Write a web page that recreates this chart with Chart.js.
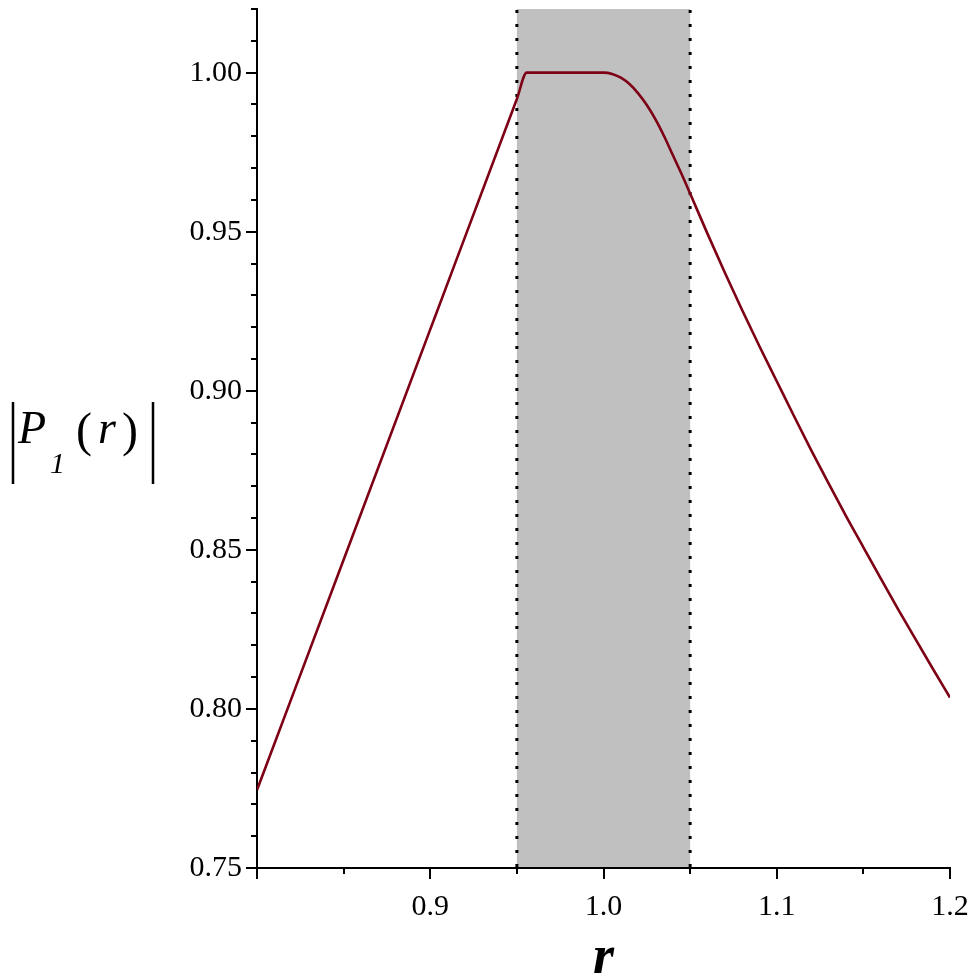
<!DOCTYPE html>
<html>
<head>
<meta charset="utf-8">
<script src="https://cdn.jsdelivr.net/npm/chart.js@4/dist/chart.umd.min.js"></script>
<style>
  html, body { margin: 0; padding: 0; background: #fff; }
  #wrap { width: 976px; height: 980px; }
</style>
</head>
<body>
<div id="wrap"><canvas id="plot" width="976" height="980"></canvas></div>
<script>
// curve |P_1(r)|
const rValues = [0.80, 0.85, 0.90, 0.95, 0.9557, 0.97, 0.98, 0.99, 1.00,
  1.005, 1.01, 1.015, 1.02, 1.025, 1.03, 1.035, 1.04, 1.045, 1.05,
  1.06, 1.07, 1.08, 1.09, 1.10, 1.11, 1.12, 1.13, 1.14, 1.15, 1.16, 1.17, 1.18, 1.19, 1.20];
const pValues = [0.7745, 0.8469, 0.9193, 0.9917, 1.0, 1.0, 1.0, 1.0, 1.0,
  0.9996, 0.9984, 0.9964, 0.9935, 0.9898, 0.9853, 0.9800, 0.9741, 0.9682, 0.9620,
  0.9494, 0.9372, 0.9254, 0.9140, 0.9030, 0.8920, 0.8812, 0.8708, 0.8606, 0.8508, 0.8410, 0.8314, 0.8220, 0.8127, 0.8036];

// shaded band and its dotted borders
const bandStart = 0.95;
const bandEnd = 1.05;

// axes
const xMin = 0.8, xMax = 1.2;
const yMin = 0.75, yMax = 1.02;
const xMajorTicks = [0.8, 0.9, 1.0, 1.1, 1.2];
const xMinorTicks = [0.85, 0.95, 1.05, 1.15];
const yMajorTicks = [0.75, 0.80, 0.85, 0.90, 0.95, 1.00];
const yMinorTicks = [0.76, 0.77, 0.78, 0.79, 0.81, 0.82, 0.83, 0.84, 0.86, 0.87, 0.88, 0.89,
  0.91, 0.92, 0.93, 0.94, 0.96, 0.97, 0.98, 0.99, 1.01, 1.02];
const xLabelValues = [0.9, 1.0, 1.1, 1.2];

const curveColor = '#7d0014';
const serif = '"Liberation Serif", "DejaVu Serif", serif';

const near = (a, list) => list.some(v => Math.abs(v - a) < 1e-6);

// band + dotted lines behind the curve
const bandPlugin = {
  id: 'band',
  beforeDatasetsDraw(chart) {
    const { ctx, scales } = chart;
    const x0 = scales.x.getPixelForValue(bandStart);
    const x1 = scales.x.getPixelForValue(bandEnd);
    const yTop = scales.y.getPixelForValue(yMax);
    const yBot = scales.y.getPixelForValue(yMin);
    ctx.save();
    ctx.fillStyle = '#c0c0c0';
    ctx.fillRect(x0, yTop, x1 - x0, yBot - yTop - 1);
    ctx.strokeStyle = '#000';
    ctx.lineWidth = 3;
    ctx.setLineDash([3, 11]);
    [x0, x1].forEach(x => {
      ctx.beginPath();
      ctx.moveTo(x, yTop + 1);
      ctx.lineTo(x, yBot);
      ctx.stroke();
    });
    ctx.restore();
  }
};

// tick marks and axis titles
const decorPlugin = {
  id: 'decor',
  afterDraw(chart) {
    const { ctx, scales } = chart;
    const xs = scales.x, ys = scales.y;
    const axisX = ys.right;
    const axisY = xs.top;
    ctx.save();
    ctx.strokeStyle = '#000';
    ctx.lineWidth = 2;
    ctx.beginPath();
    yMajorTicks.forEach(v => {
      const y = Math.round(ys.getPixelForValue(v));
      ctx.moveTo(axisX - 11, y); ctx.lineTo(axisX, y);
    });
    yMinorTicks.forEach(v => {
      const y = Math.round(ys.getPixelForValue(v));
      ctx.moveTo(axisX - 6, y); ctx.lineTo(axisX, y);
    });
    xMajorTicks.forEach(v => {
      const x = Math.round(xs.getPixelForValue(v));
      ctx.moveTo(x, axisY); ctx.lineTo(x, axisY + 11);
    });
    xMinorTicks.forEach(v => {
      const x = Math.round(xs.getPixelForValue(v));
      ctx.moveTo(x, axisY); ctx.lineTo(x, axisY + 6);
    });
    ctx.stroke();

    // x title
    ctx.fillStyle = '#000';
    ctx.textBaseline = 'alphabetic';
    ctx.textAlign = 'center';
    ctx.font = 'italic bold 54px ' + serif;
    ctx.fillText('r', xs.getPixelForValue(1.0), 973);

    // y title |P_1(r)|
    ctx.textAlign = 'left';
    ctx.font = 'italic 46px ' + serif;
    ctx.fillText('P', 18, 443);
    ctx.font = 'italic 30px ' + serif;
    ctx.fillText('1', 50, 473);
    ctx.font = '48px ' + serif;
    ctx.fillText('(', 76, 446);
    ctx.fillText(')', 122, 446);
    ctx.font = 'italic 46px ' + serif;
    ctx.fillText('r', 98, 443);
    ctx.lineWidth = 2.5;
    ctx.beginPath();
    ctx.moveTo(13, 402); ctx.lineTo(13, 484);
    ctx.moveTo(153, 402); ctx.lineTo(153, 484);
    ctx.stroke();
    ctx.restore();
  }
};

const ctx = document.getElementById('plot').getContext('2d');
new Chart(ctx, {
  type: 'line',
  data: {
    datasets: [{
      label: '|P1(r)|',
      data: rValues.map((r, i) => ({ x: r, y: pValues[i] })),
      borderColor: curveColor,
      borderWidth: 2.6,
      pointRadius: 0,
      cubicInterpolationMode: 'monotone',
      fill: false
    }]
  },
  options: {
    responsive: false,
    animation: false,
    layout: { padding: { top: 9, right: 26, left: 0, bottom: 0 } },
    plugins: {
      legend: { display: false },
      tooltip: { enabled: false }
    },
    scales: {
      x: {
        type: 'linear',
        min: xMin,
        max: xMax,
        border: { display: true, color: '#000', width: 2 },
        grid: { display: true, drawOnChartArea: false, drawTicks: true, tickLength: 11, tickColor: 'rgba(0,0,0,0)' },
        ticks: {
          stepSize: 0.05,
          autoSkip: false,
          maxRotation: 0,
          padding: 10,
          color: '#000',
          font: { family: serif, size: 30 },
          callback: v => near(v, xLabelValues) ? v.toFixed(1) : ''
        },
        afterFit: scale => {
          scale.height = 112;
          scale.paddingLeft = 0;
          scale.paddingRight = 0;
        }
      },
      y: {
        type: 'linear',
        min: yMin,
        max: yMax,
        border: { display: true, color: '#000', width: 2 },
        grid: { display: true, drawOnChartArea: false, drawTicks: true, tickLength: 11, tickColor: 'rgba(0,0,0,0)' },
        ticks: {
          stepSize: 0.01,
          autoSkip: false,
          padding: 4,
          color: '#000',
          font: { family: serif, size: 30 },
          callback: v => near(v, yMajorTicks) ? v.toFixed(2) : ''
        },
        afterFit: scale => {
          scale.width = 257;
          scale.paddingTop = 0;
          scale.paddingBottom = 0;
        }
      }
    }
  },
  plugins: [bandPlugin, decorPlugin]
});
</script>
</body>
</html>
